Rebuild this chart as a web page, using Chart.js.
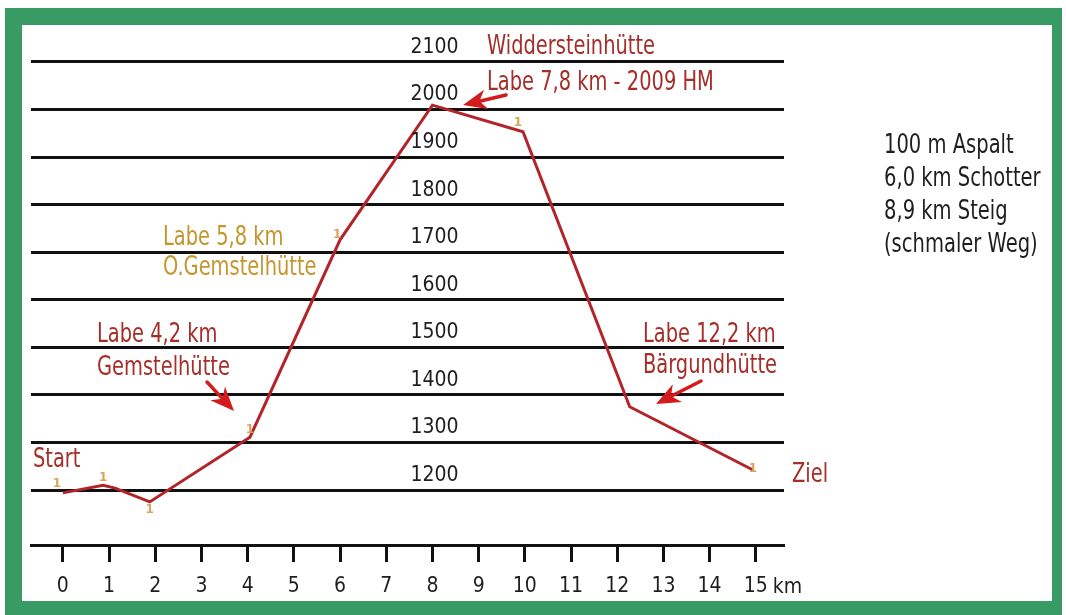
<!DOCTYPE html>
<html><head><meta charset="utf-8">
<script src="https://cdn.jsdelivr.net/npm/chart.js@4.4.1/dist/chart.umd.min.js"></script>
<style>
html,body{margin:0;padding:0;background:#fff;overflow:hidden;}
#frame{position:absolute;left:5px;top:8px;width:1057px;height:607px;background:#389b64;}
#inner{position:absolute;left:22px;top:25px;width:1030px;height:576px;background:#fff;}
#c{position:absolute;left:0;top:0;}
</style></head>
<body>
<div id="frame"></div><div id="inner"></div>
<canvas id="c" width="1066" height="615"></canvas>
<script>
// ---- data ----
const distanceKm = [0, 0.87, 1.13, 1.88, 4.05, 6.0, 8.0, 9.96, 12.27, 14.94];
const elevationM = [1194, 1210, 1204, 1175, 1311, 1726, 2009, 1953, 1375, 1242];
const kmTicks = [0,1,2,3,4,5,6,7,8,9,10,11,12,13,14,15];
const heightTicks = [1200,1300,1400,1500,1600,1700,1800,1900,2000,2100];
const unitLabel = 'km';
const routeNotes = [
  {text:'Widdersteinhütte', color:'red'},
  {text:'Labe 7,8 km - 2009 HM', color:'red'},
  {text:'Labe 5,8 km', color:'gold'},
  {text:'O.Gemstelhütte', color:'gold'},
  {text:'Labe 4,2 km', color:'red'},
  {text:'Gemstelhütte', color:'red'},
  {text:'Start', color:'red'},
  {text:'Labe 12,2 km', color:'red'},
  {text:'Bärgundhütte', color:'red'},
  {text:'Ziel', color:'red'}
];
const surfaceNotes = ['100 m Aspalt', '6,0 km Schotter', '8,9 km Steig', '(schmaler Weg)'];

// ---- styles / layout ----
const COND = '"DejaVu Sans Condensed", "DejaVu Sans", sans-serif';
const COLORS = {red:'#a52e28', gold:'#c4962c', line:'#b3242a', arrow:'#d41a1a', ink:'#1e1e1e', marker:'#d6a55c'};
const notePos = [[487,54],[487,90],[163,245],[163,275],[97,342],[97,375],[33,467],[643,342],[643,373],[792,482]];
const arrows = [[506,95,463,105],[207,382,234,411],[701,381,656,404]];
const markerOffsets = {0:[-6,-9],1:[0,-7],3:[0,8],4:[0,-7],5:[-3,-5],7:[-5,-9],9:[0,-1]};

function squeezedText(ctx, t, x, y, sx){
  ctx.save(); ctx.translate(x, y); ctx.scale(sx, 1); ctx.fillText(t, 0, 0); ctx.restore();
}

const overlay = {
  id:'overlay',
  afterDraw(chart){
    const ctx = chart.ctx, xs = chart.scales.x, ys = chart.scales.y;
    ctx.save();
    // height labels centered above each grid line
    ctx.font = '21px ' + COND; ctx.fillStyle = COLORS.ink;
    ctx.textAlign = 'center'; ctx.textBaseline = 'alphabetic';
    const cx = xs.getPixelForValue(8) + 2;
    heightTicks.forEach(v => ctx.fillText(String(v), cx, ys.getPixelForValue(v) - 9));
    // unit after last km label
    ctx.textAlign = 'left';
    ctx.fillText(unitLabel, xs.getPixelForValue(kmTicks[kmTicks.length-1]) + 17, 593);
    // vertex markers
    const meta = chart.getDatasetMeta(0);
    ctx.font = 'bold 12px "DejaVu Sans", sans-serif'; ctx.fillStyle = COLORS.marker;
    ctx.textAlign = 'center'; ctx.textBaseline = 'middle';
    Object.keys(markerOffsets).forEach(k => {
      const p = meta.data[+k]; const o = markerOffsets[k];
      ctx.fillText('1', p.x + o[0], p.y + o[1]);
    });
    // route notes
    ctx.font = '27px ' + COND; ctx.textAlign = 'left'; ctx.textBaseline = 'alphabetic';
    routeNotes.forEach((n,i) => { ctx.fillStyle = COLORS[n.color]; squeezedText(ctx, n.text, notePos[i][0], notePos[i][1], 0.8); });
    // surface notes
    ctx.font = '26px ' + COND; ctx.fillStyle = COLORS.ink;
    surfaceNotes.forEach((t,i) => squeezedText(ctx, t, 884, 153 + i*33, 0.835));
    // arrows
    ctx.strokeStyle = COLORS.arrow; ctx.fillStyle = COLORS.arrow; ctx.lineWidth = 3.5; ctx.lineCap = 'round';
    arrows.forEach(([x1,y1,x2,y2]) => {
      const a = Math.atan2(y2-y1, x2-x1), L = 24, W = 10;
      const bx = x2 - L*Math.cos(a), by = y2 - L*Math.sin(a);
      ctx.beginPath(); ctx.moveTo(x1,y1); ctx.lineTo(bx + 6*Math.cos(a), by + 6*Math.sin(a)); ctx.stroke();
      ctx.beginPath(); ctx.moveTo(x2,y2);
      ctx.lineTo(bx + W*Math.sin(a), by - W*Math.cos(a));
      ctx.lineTo(bx + 0.3*L*Math.cos(a), by + 0.3*L*Math.sin(a));
      ctx.lineTo(bx - W*Math.sin(a), by + W*Math.cos(a));
      ctx.closePath(); ctx.fill();
    });
    ctx.restore();
  }
};

new Chart(document.getElementById('c'), {
  type:'line',
  data:{ datasets:[{
    data: distanceKm.map((k,i)=>({x:k, y:elevationM[i]})),
    borderColor: COLORS.line, borderWidth: 3, pointRadius: 0, tension: 0, fill:false
  }]},
  options:{
    responsive:false, animation:false, devicePixelRatio:1,
    layout:{padding:{left:31, right:282, top:40, bottom:0}},
    plugins:{legend:{display:false}, tooltip:{enabled:false}},
    scales:{
      x:{ type:'linear', min:-0.69, max:15.61,
        afterBuildTicks(s){ s.ticks = kmTicks.map(v=>({value:v})); },
        afterFit(s){ s.height = 70; },
        grid:{drawOnChartArea:false, drawTicks:true, tickLength:17, tickColor:'#111', tickWidth:3},
        border:{display:true, color:'#111', width:3},
        ticks:{font:{family:COND, size:21}, color:COLORS.ink, padding:12, maxRotation:0, autoSkip:false}
      },
      y:{ type:'linear', min:1084.4, max:2146,
        afterBuildTicks(s){ s.ticks = heightTicks.map(v=>({value:v})); },
        afterFit(s){ s.width = 0; },
        grid:{color:'#111', lineWidth:3, drawTicks:false},
        border:{display:false},
        ticks:{display:false}
      }
    }
  },
  plugins:[overlay]
});
</script>
</body></html>
